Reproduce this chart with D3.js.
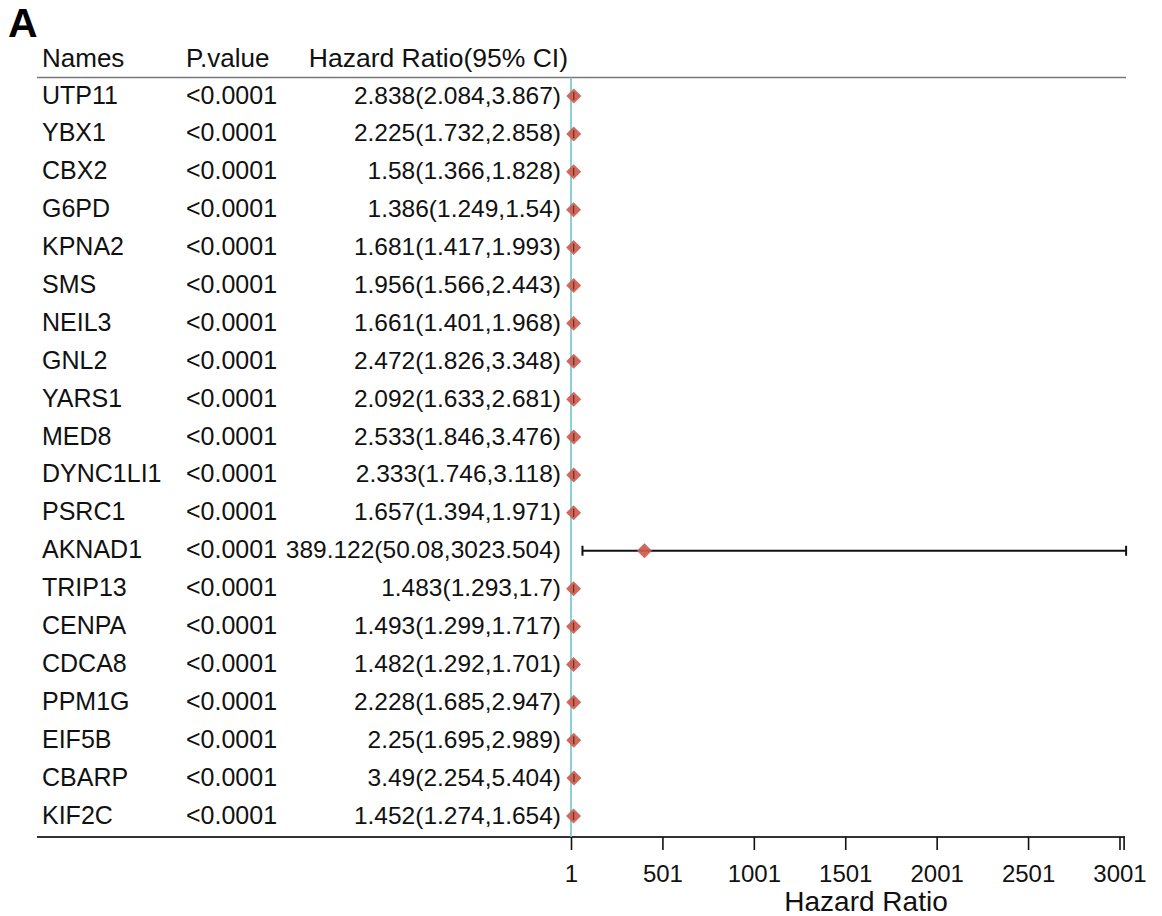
<!DOCTYPE html>
<html><head><meta charset="utf-8">
<script src="https://cdn.jsdelivr.net/npm/d3@7/dist/d3.min.js"></script>
<style>body{margin:0;background:#fff;} svg{display:block;}</style>
</head><body>
<svg id="c" width="1162" height="916"></svg>
<script>
const names = ["UTP11","YBX1","CBX2","G6PD","KPNA2","SMS","NEIL3","GNL2","YARS1","MED8","DYNC1LI1","PSRC1","AKNAD1","TRIP13","CENPA","CDCA8","PPM1G","EIF5B","CBARP","KIF2C"];
const pvalues = ["<0.0001","<0.0001","<0.0001","<0.0001","<0.0001","<0.0001","<0.0001","<0.0001","<0.0001","<0.0001","<0.0001","<0.0001","<0.0001","<0.0001","<0.0001","<0.0001","<0.0001","<0.0001","<0.0001","<0.0001"];
const hr = [2.838,2.225,1.58,1.386,1.681,1.956,1.661,2.472,2.092,2.533,2.333,1.657,389.122,1.483,1.493,1.482,2.228,2.25,3.49,1.452];
const lower = [2.084,1.732,1.366,1.249,1.417,1.566,1.401,1.826,1.633,1.846,1.746,1.394,50.08,1.293,1.299,1.292,1.685,1.695,2.254,1.274];
const upper = [3.867,2.858,1.828,1.54,1.993,2.443,1.968,3.348,2.681,3.476,3.118,1.971,3023.504,1.7,1.717,1.701,2.947,2.989,5.404,1.654];
const xTicks = [1,501,1001,1501,2001,2501,3001];

const svg = d3.select("#c");
const font = "Liberation Sans, Arial, sans-serif";
const x = d3.scaleLinear().domain([1, d3.max(upper)]).range([571, 1123.6]);
const y = d3.scalePoint().domain(names).range([96, 816]);
const off = 2.5;

svg.append("text").attr("x",8).attr("y",37).attr("font-family",font).attr("font-weight","bold")
  .attr("font-size",41).attr("fill","#000").text("A");

// header
const hdrY = 66.5;
svg.append("text").attr("x",42).attr("y",hdrY).attr("font-family",font).attr("font-size",26).attr("fill","#111").text("Names");
svg.append("text").attr("x",186).attr("y",hdrY).attr("font-family",font).attr("font-size",26).attr("fill","#111").text("P.value");
svg.append("text").attr("x",568).attr("y",hdrY).attr("text-anchor","end").attr("font-family",font).attr("font-size",26.5).attr("fill","#111").text("Hazard Ratio(95% CI)");

// horizontal lines
svg.append("line").attr("x1",37).attr("x2",1126).attr("y1",77.5).attr("y2",77.5).attr("stroke","#777").attr("stroke-width",1.5);
svg.append("line").attr("x1",37).attr("x2",1125).attr("y1",837).attr("y2",837).attr("stroke","#333").attr("stroke-width",2);

// reference line
svg.append("line").attr("x1",x(1)).attr("x2",x(1)).attr("y1",77.5).attr("y2",837).attr("stroke","#6cc6cc").attr("stroke-width",1.6);

const rows = names.map((n,i)=>({n,p:pvalues[i],hr:hr[i],lo:lower[i],hi:upper[i]}));
const g = svg.append("g");
const row = g.selectAll("g.row").data(rows).join("g").attr("class","row");
row.append("text").attr("x",42).attr("y",d=>y(d.n)+7.5).attr("font-family",font).attr("font-size",25).attr("fill","#111").text(d=>d.n);
row.append("text").attr("x",186).attr("y",d=>y(d.n)+7.5).attr("font-family",font).attr("font-size",25).attr("fill","#111").text(d=>d.p);
row.append("text").attr("x",561).attr("y",d=>y(d.n)+7.5).attr("text-anchor","end").attr("font-family",font).attr("font-size",24.5).attr("fill","#111")
  .text(d=>`${d.hr}(${d.lo},${d.hi})`);

// CI lines
row.append("line").attr("x1",d=>x(d.lo)+off).attr("x2",d=>x(d.hi)+off).attr("y1",d=>y(d.n)).attr("y2",d=>y(d.n)).attr("stroke","#111").attr("stroke-width",2);
row.filter(d=>x(d.hi)-x(d.lo)>4).each(function(d){
  const s = d3.select(this);
  [d.lo,d.hi].forEach(v=>s.append("line").attr("x1",x(v)+off).attr("x2",x(v)+off).attr("y1",y(d.n)-5).attr("y2",y(d.n)+5).attr("stroke","#111").attr("stroke-width",2));
});
// diamonds
row.append("path").attr("d",d=>{const cx=x(d.hr)+off, cy=y(d.n); return `M${cx-7.5},${cy}L${cx},${cy-7.5}L${cx+7.5},${cy}L${cx},${cy+7.5}Z`;})
  .attr("fill","#cd5b4e").attr("opacity",0.92);
// small dark CI marks inside small diamonds
row.filter(d=>x(d.hi)-x(d.lo)<=4).append("line").attr("x1",d=>x(d.hr)+off).attr("x2",d=>x(d.hr)+off).attr("y1",d=>y(d.n)-4).attr("y2",d=>y(d.n)+4).attr("stroke","#7a2a22").attr("stroke-width",1.3);

// axis
const axis = d3.axisBottom(x).tickValues(xTicks.concat([d3.max(upper)])).tickSize(13).tickPadding(15).tickFormat(v=>xTicks.includes(v)?String(v):"");
const ax = svg.append("g").attr("transform","translate(0,837)").call(axis);
ax.select(".domain").remove();
ax.selectAll(".tick line").attr("stroke","#111").attr("stroke-width",1.6);
ax.selectAll(".tick text").attr("font-family",font).attr("font-size",24).attr("fill","#111");
svg.append("text").attr("x",866).attr("y",911).attr("text-anchor","middle").attr("font-family",font).attr("font-size",28).attr("fill","#111").text("Hazard Ratio");
</script>
</body></html>
